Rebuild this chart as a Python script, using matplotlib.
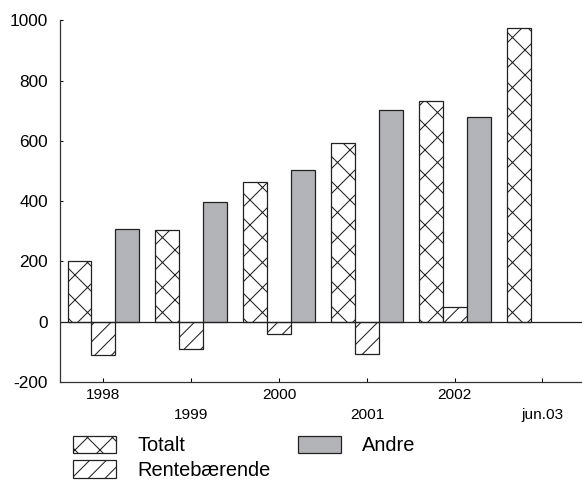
import numpy as np
import matplotlib.pyplot as plt

plt.rcParams['font.family'] = ['Liberation Sans', 'DejaVu Sans']
plt.rcParams['hatch.linewidth'] = 0.5
plt.rcParams['hatch.color'] = '#222222'
plt.rcParams['axes.unicode_minus'] = False

# data
years = ['1998', '1999', '2000', '2001', '2002', 'jun.03']
totalt = [200, 305, 463, 594, 733, 974]
rente = [-110, -92, -40, -107, 49, np.nan]
andre = [307, 398, 502, 703, 681, np.nan]

fig = plt.figure(figsize=(3.88, 3.24), dpi=150)
ax = fig.add_axes([0.1031, 0.214, 0.8969, 0.744])

x = np.arange(len(years))
w = 0.273
edge = '#222222'
ax.bar(x - w, totalt, w, color='white', edgecolor=edge, hatch='xx', linewidth=0.6, label='Totalt')
ax.bar(x, rente, w, color='white', edgecolor=edge, hatch='///', linewidth=0.6, label='Rentebærende')
ax.bar(x + w, andre, w, color='#b3b4b8', edgecolor=edge, linewidth=0.6, label='Andre')
ax.axhline(0, color=edge, lw=0.6)

ax.set_xlim(-0.495, 5.45)
ax.set_ylim(-200, 1000)
ax.set_yticks(range(-200, 1001, 200))
ax.tick_params(axis='y', direction='in', length=1.5, width=0.5, labelsize=8.3, pad=5.8)

# staggered year labels
ax.set_xticks(x[::2])
ax.set_xticklabels(years[::2])
ax.set_xticks(x[1::2], minor=True)
ax.set_xticklabels(years[1::2], minor=True)
ax.tick_params(axis='x', which='major', direction='in', length=1.9, width=0.5, labelsize=7.4, pad=2.9)
ax.tick_params(axis='x', which='minor', direction='in', length=1.9, width=0.5, labelsize=7.4, pad=12.5)

for s in ['top', 'right']:
    ax.spines[s].set_visible(False)
for s in ['left', 'bottom']:
    ax.spines[s].set_color('#333333')
    ax.spines[s].set_linewidth(0.6)

fig.legend(loc='upper left', bbox_to_anchor=(73 / 582, 1 - 435.5 / 486), ncol=2,
           frameon=False, fontsize=9.6, borderpad=0, handlelength=2.15, handleheight=1.0,
           handletextpad=1.05, columnspacing=1.4, labelspacing=0.25, borderaxespad=0)

fig.savefig('out.png', dpi=150)
